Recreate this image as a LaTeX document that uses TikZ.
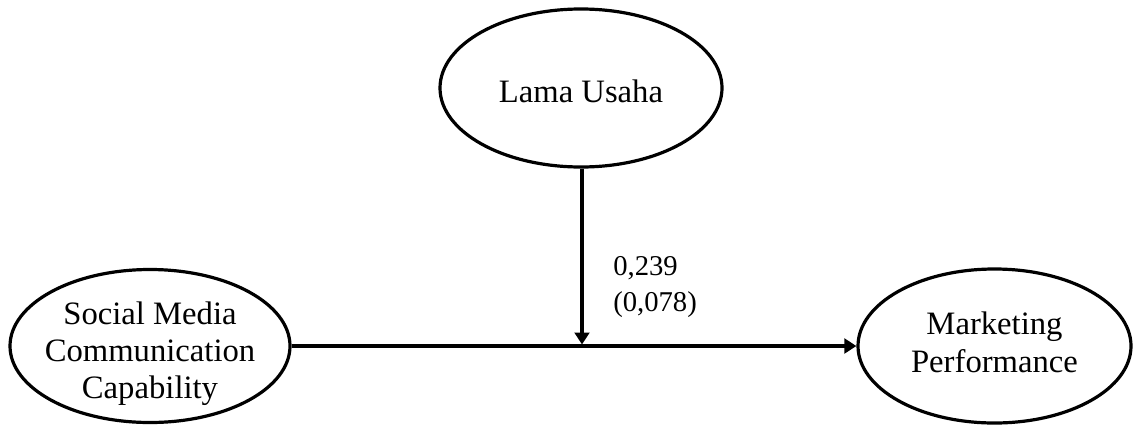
\documentclass[tikz,border=0pt]{standalone}
\usepackage{fontspec}
\setmainfont{Liberation Serif}
\usetikzlibrary{shapes.geometric,arrows.meta}
\newcommand\ctext[2]{\makebox[0pt]{\smash{\raisebox{#1}{\begin{tabular}[t]{@{}c@{}}#2\end{tabular}}}}}
\begin{document}
\begin{tikzpicture}[x=0.75pt,y=-0.75pt,
  latent/.style={draw, ellipse, line width=2.4pt, inner sep=0pt,
    font=\fontsize{24.5}{28}\selectfont},
  path/.style={line width=2.8pt, -{Triangle[length=9pt,width=11pt]}}]
\useasboundingbox (0,0) rectangle (1134,425);
\node[latent, minimum width=211.5pt, minimum height=118.5pt] (lama) at (581,88) {\ctext{-10.5pt}{Lama Usaha}};
\node[latent, minimum width=210pt, minimum height=114.75pt] (smcc) at (150,346) {\ctext{16.5pt}{Social Media\\Communication\\Capability}};
\node[latent, minimum width=204.75pt, minimum height=115.5pt] (mp) at (994.5,346) {\ctext{8.5pt}{Marketing\\Performance}};
\draw[path] (smcc.east) -- (mp.west);
\coordinate (j) at (582,344.5);
\draw[path] (lama.south -| j) -- (j);
\node[anchor=north west, inner sep=0pt, align=left, font=\fontsize{21.5}{27}\selectfont] (lbl) at (613,256) {0,239\\(0,078)};
\end{tikzpicture}
\end{document}
